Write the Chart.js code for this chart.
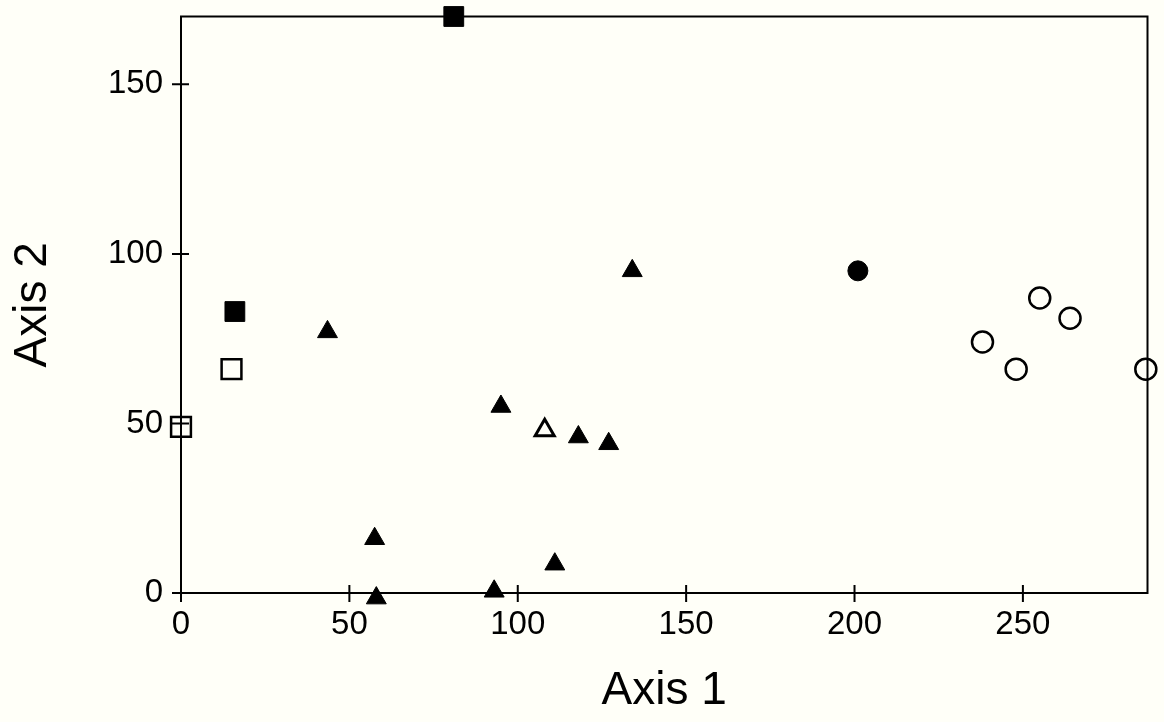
<!DOCTYPE html>
<html>
<head>
<meta charset="utf-8">
<script src="https://cdn.jsdelivr.net/npm/chart.js@4.4.1/dist/chart.umd.min.js"></script>
<style>
    body { margin: 0; background: #fffff8; }
    canvas { display: block; }
</style>
</head>
<body>
<canvas id="ordination" width="1164" height="722"></canvas>
<script>
// tick labels
const xTicks = [0, 50, 100, 150, 200, 250];
const yTicks = [0, 50, 100, 150];

// groups of sites
const filledSquares = [{x: 81, y: 170}, {x: 16, y: 83}];
const openSquares = [{x: 15, y: 66}, {x: 0, y: 49}];
const filledTriangles = [
    {x: 43.5, y: 77}, {x: 57.5, y: 16}, {x: 58, y: -1.5}, {x: 93, y: 0.5},
    {x: 111, y: 8.5}, {x: 95, y: 55}, {x: 118, y: 46}, {x: 127, y: 44},
    {x: 134, y: 95}
];
const openTriangles = [{x: 108, y: 48}];
const filledCircles = [{x: 201, y: 95}];
const openCircles = [
    {x: 238, y: 74}, {x: 248, y: 66}, {x: 255, y: 87}, {x: 264, y: 81}, {x: 286.5, y: 66}
];

const font = "'Liberation Sans', Arial, sans-serif";

function group(label, data, style, filled, radius, border) {
    return {
        label: label,
        data: data,
        pointStyle: style,
        pointRadius: radius,
        pointHoverRadius: radius,
        pointBackgroundColor: filled ? "#000" : "rgba(0,0,0,0)",
        pointBorderColor: "#000",
        pointBorderWidth: border,
        clip: false
    };
}

// frame round the plot and ticks that cross the axes
const framePlugin = {
    id: "frame",
    afterDraw(chart) {
        const c = chart.ctx;
        const a = chart.chartArea;
        const xs = chart.scales.x;
        const ys = chart.scales.y;
        c.save();
        c.strokeStyle = "#000";
        c.lineWidth = 2;
        c.strokeRect(a.left, a.top, a.right - a.left, a.bottom - a.top);
        c.beginPath();
        xTicks.forEach(v => {
            const px = xs.getPixelForValue(v);
            c.moveTo(px, a.bottom - 8);
            c.lineTo(px, a.bottom + 9);
        });
        yTicks.forEach(v => {
            const py = ys.getPixelForValue(v);
            c.moveTo(a.left - 9, py);
            c.lineTo(a.left + 8, py);
        });
        c.stroke();
        c.restore();
    }
};

new Chart(document.getElementById("ordination"), {
    type: "scatter",
    data: {
        datasets: [
            group("filled squares", filledSquares, "rect", true, 14, 1),
            group("open squares", openSquares, "rect", false, 14, 2.5),
            group("filled triangles", filledTriangles, "triangle", true, 11.5, 1),
            group("open triangles", openTriangles, "triangle", false, 11, 3),
            group("filled circles", filledCircles, "circle", true, 10, 1),
            group("open circles", openCircles, "circle", false, 10.5, 2.5)
        ]
    },
    options: {
        responsive: false,
        animation: false,
        layout: {
            padding: {left: 0, right: 12, top: 16, bottom: 0}
        },
        plugins: {
            legend: {display: false},
            tooltip: {enabled: false}
        },
        scales: {
            x: {
                type: "linear",
                min: 0,
                max: 287,
                afterBuildTicks: scale => {
                    scale.ticks = xTicks.map(v => ({value: v}));
                },
                afterFit: scale => {
                    scale.height = 129;
                    scale.paddingLeft = 0;
                    scale.paddingRight = 0;
                },
                grid: {display: false, drawTicks: false},
                border: {display: false},
                ticks: {
                    color: "#000",
                    padding: 12,
                    maxRotation: 0,
                    font: {family: font, size: 33}
                },
                title: {
                    display: true,
                    text: "Axis 1",
                    color: "#000",
                    padding: {top: 0, bottom: 3},
                    font: {family: font, size: 46}
                }
            },
            y: {
                type: "linear",
                min: 0,
                max: 170,
                afterBuildTicks: scale => {
                    scale.ticks = yTicks.map(v => ({value: v}));
                },
                afterFit: scale => {
                    scale.width = 181;
                    scale.paddingTop = 0;
                    scale.paddingBottom = 0;
                },
                grid: {display: false, drawTicks: false},
                border: {display: false},
                ticks: {
                    color: "#000",
                    padding: 18,
                    font: {family: font, size: 33}
                },
                title: {
                    display: true,
                    text: "Axis 2",
                    color: "#000",
                    padding: {top: 6, bottom: 0},
                    font: {family: font, size: 46}
                }
            }
        }
    },
    plugins: [framePlugin]
});
</script>
</body>
</html>
